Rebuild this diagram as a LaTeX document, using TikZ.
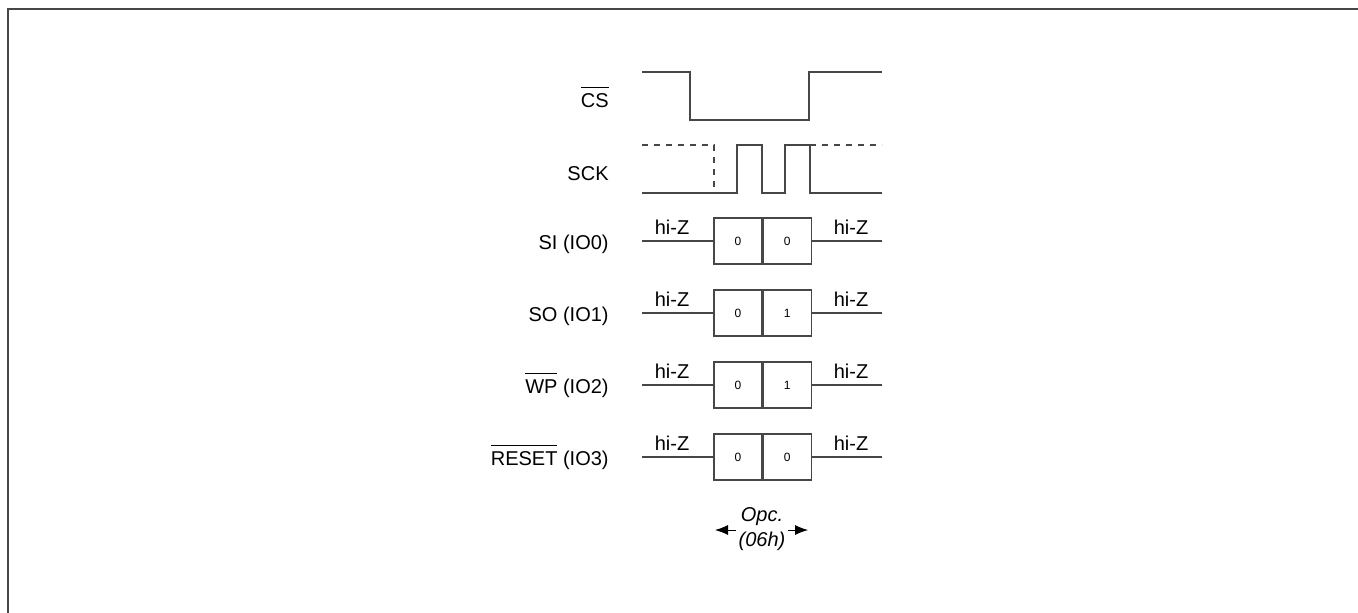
\documentclass[tikz,border=0pt]{standalone}
\usepackage{fontspec}
\setmainfont{Liberation Sans}
\usetikzlibrary{positioning}
\usetikzlibrary{calc}
\usetikzlibrary{arrows.meta}
\newcommand{\ovl}[1]{$\overline{\mbox{\rule{0pt}{8.5pt}#1}}$}
\tikzset{
  wave/.style={draw=black!72, line width=0.6pt},
  bitbox/.style={draw=black!72, line width=0.6pt, minimum width=24pt, minimum height=23pt,
    inner sep=0pt, font=\fontsize{6}{7}\selectfont},
  siglabel/.style={anchor=base east, inner sep=0pt},
  hiz/.style={anchor=base, inner sep=0pt}
}

\begin{document}
\begin{tikzpicture}[x=0.5pt, y=-0.5pt, font=\fontsize{10}{12}\selectfont]
\useasboundingbox (0,0) rectangle (1358,612);

% frame
\draw[black!72, line width=1pt] (8,9) rectangle (1380,640);

% chip select
\node[siglabel] (cs) at (609,107) {\ovl{CS}};
\draw[wave] (642,72) -- (690,72) -- (690,120) -- (809,120) -- (809,72) -- (882,72);

% clock
\node[siglabel] (sck) at (609,180) {SCK};
\draw[wave, dashed] (642,145) -- (714,145) -- (714,193);
\draw[wave, dashed] (810,145) -- (882,145);
\draw[wave] (642,193) -- (737,193) -- (737,145) -- (762,145) -- (762,193)
  -- (785,193) -- (785,145) -- (810,145) -- (810,193) -- (882,193);

% data lines
\foreach \y/\name/\lab/\a/\b in {241/si/{SI (IO0)}/0/0, 313/so/{SO (IO1)}/0/1,
    385/wp/{\ovl{WP} (IO2)}/0/1, 457/rst/{\ovl{RESET} (IO3)}/0/0} {
  \node[siglabel] (\name) at (609,{\y+8}) {\lab};
  \node[bitbox] (\name a) at (738,\y) {\a};
  \node[bitbox, right=0pt of \name a] (\name b) {\b};
  \coordinate (\name l) at (642,\y);
  \coordinate (\name r) at (882,\y);
  \draw[wave] (\name l) -- (\name a.west);
  \draw[wave] (\name b.east) -- (\name r);
  \node[hiz] at (672,{\y-7}) {hi-Z};
  \node[hiz] at (851,{\y-7}) {hi-Z};
}

% opcode
\node[align=center, inner sep=1pt, font=\fontsize{10}{12.5}\selectfont\itshape] (opc) at (762,529) {Opc.\\(06h)};
\coordinate (opcl) at (715,530);
\coordinate (opcr) at (808,530);
\draw[-{Latex[length=6.5pt,width=5pt]}] (opc.west |- opcl) -- (opcl);
\draw[-{Latex[length=6.5pt,width=5pt]}] (opc.east |- opcr) -- (opcr);

\end{tikzpicture}
\end{document}
